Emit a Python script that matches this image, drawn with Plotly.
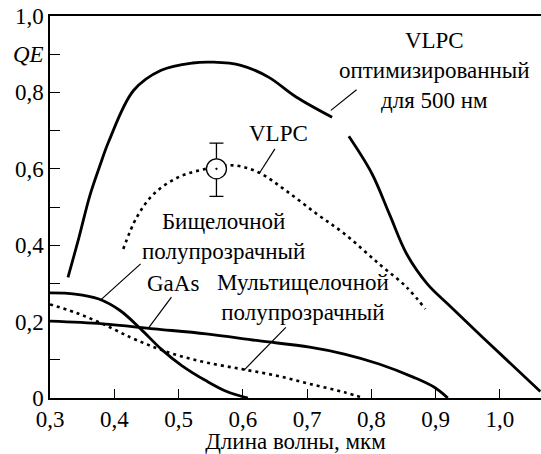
import plotly.graph_objects as go

# VLPC optimised for 500 nm (solid, with a gap in the curve)
opt_x1 = [0.328, 0.345, 0.362, 0.378, 0.392, 0.430, 0.473, 0.522, 0.554, 0.597, 0.640, 0.683, 0.739]
opt_y1 = [0.316, 0.420, 0.530, 0.610, 0.674, 0.805, 0.858, 0.877, 0.879, 0.871, 0.840, 0.788, 0.735]
opt_x2 = [0.765, 0.801, 0.828, 0.855, 0.887, 0.919, 0.973, 1.063]
opt_y2 = [0.685, 0.587, 0.482, 0.377, 0.299, 0.246, 0.159, 0.017]

# VLPC (dotted)
vlpc_x = [0.414, 0.435, 0.462, 0.500, 0.543, 0.586, 0.624, 0.667, 0.715, 0.758, 0.812, 0.855, 0.884]
vlpc_y = [0.390, 0.473, 0.535, 0.578, 0.600, 0.609, 0.591, 0.543, 0.482, 0.430, 0.351, 0.290, 0.233]

# measured VLPC point with error bar
pt_x = [0.559]
pt_y = [0.600]
pt_err_up = [0.067]
pt_err_down = [0.072]

# bialkali semitransparent (solid)
bi_x = [0.300, 0.339, 0.376, 0.409, 0.441, 0.473, 0.505, 0.543, 0.575, 0.608]
bi_y = [0.275, 0.272, 0.259, 0.229, 0.181, 0.128, 0.085, 0.045, 0.017, 0.0]

# GaAs (solid)
gaas_x = [0.300, 0.382, 0.462, 0.543, 0.624, 0.704, 0.758, 0.812, 0.866, 0.898, 0.919]
gaas_y = [0.201, 0.194, 0.181, 0.168, 0.150, 0.133, 0.115, 0.089, 0.054, 0.028, 0.0]

# multialkali semitransparent (dotted)
multi_x = [0.300, 0.339, 0.382, 0.425, 0.462, 0.500, 0.543, 0.597, 0.651, 0.704, 0.758, 0.788]
multi_y = [0.245, 0.224, 0.194, 0.159, 0.133, 0.111, 0.093, 0.076, 0.059, 0.037, 0.015, 0.0]

x_ticks = [0.3, 0.4, 0.5, 0.6, 0.7, 0.8, 0.9, 1.0]
x_labels = ["0,3", "0,4", "0,5", "0,6", "0,7", "0,8", "0,9", "1,0"]
y_ticks = [0, 0.1, 0.2, 0.3, 0.4, 0.5, 0.6, 0.7, 0.8, 0.9, 1.0]
y_labels = ["0", "", "0,2", "", "0,4", "", "0,6", "", "0,8", "<i>QE</i>", "1,0"]

FONT = "Liberation Serif"
TEXT = dict(family=FONT, size=23, color="black")
solid = dict(color="black", width=2.8)
dotted = dict(color="black", width=2.6, dash="3px,4px")

fig = go.Figure()
fig.add_trace(go.Scatter(x=opt_x1, y=opt_y1, mode="lines", line=solid, line_shape="spline"))
fig.add_trace(go.Scatter(x=opt_x2, y=opt_y2, mode="lines", line=solid, line_shape="spline"))
fig.add_trace(go.Scatter(x=vlpc_x, y=vlpc_y, mode="lines", line=dotted, line_shape="spline"))
fig.add_trace(go.Scatter(x=bi_x, y=bi_y, mode="lines", line=solid, line_shape="spline"))
fig.add_trace(go.Scatter(x=gaas_x, y=gaas_y, mode="lines", line=solid, line_shape="spline"))
fig.add_trace(go.Scatter(x=multi_x, y=multi_y, mode="lines", line=dotted, line_shape="spline"))
fig.add_trace(go.Scatter(
    x=pt_x, y=pt_y, mode="markers",
    marker=dict(symbol="circle-dot", size=20, color="white", line=dict(color="black", width=1.3)),
    error_y=dict(type="data", symmetric=False, array=pt_err_up, arrayminus=pt_err_down,
                 color="black", thickness=1.3, width=7),
))

# labels with leader lines: (text, x, y, leader start, leader end)
labels = [
    ("VLPC<br>оптимизированный<br>для 500 нм", 0.898, 0.858, (0.737, 0.753), (0.777, 0.807)),
    ("VLPC", 0.656, 0.692, (0.626, 0.589), (0.650, 0.652)),
    ("Бищелочной<br>полупрозрачный", 0.570, 0.423, (0.379, 0.257), (0.441, 0.351)),
    ("GaAs", 0.492, 0.299, (0.454, 0.185), (0.489, 0.264)),
    ("Мультищелочной<br>полупрозрачный", 0.694, 0.262, (0.602, 0.073), (0.667, 0.185)),
]
for text, tx, ty, p0, p1 in labels:
    fig.add_annotation(x=tx, y=ty, text=text, showarrow=False, font=TEXT)
    fig.add_shape(type="line", x0=p0[0], y0=p0[1], x1=p1[0], y1=p1[1],
                  line=dict(color="black", width=1.2))

fig.update_layout(
    width=541, height=454,
    margin=dict(l=50, r=0, t=16, b=56),
    paper_bgcolor="white", plot_bgcolor="white",
    showlegend=False,
    font=TEXT,
)
fig.update_xaxes(
    range=[0.3, 1.064], tickvals=x_ticks, ticktext=x_labels, tickfont=TEXT,
    ticks="inside", ticklen=9, tickwidth=1.3, tickcolor="black",
    showline=True, linecolor="black", linewidth=1.5, mirror=True,
    showgrid=False, zeroline=False, automargin=False,
    title=dict(text="Длина волны, мкм", standoff=0, font=TEXT),
)
fig.update_yaxes(
    range=[0, 1.0], tickvals=y_ticks, ticktext=y_labels, tickfont=TEXT,
    ticks="inside", ticklen=10, tickwidth=1.3, tickcolor="black",
    showline=True, linecolor="black", linewidth=1.5,
    showgrid=False, zeroline=False, automargin=False,
    ticklabeloverflow="allow",
)

# drop the default page margin so the figure fills the window
fig.write_html("out.html", config={"displayModeBar": False},
               post_script="document.body.style.margin = '0px';")
